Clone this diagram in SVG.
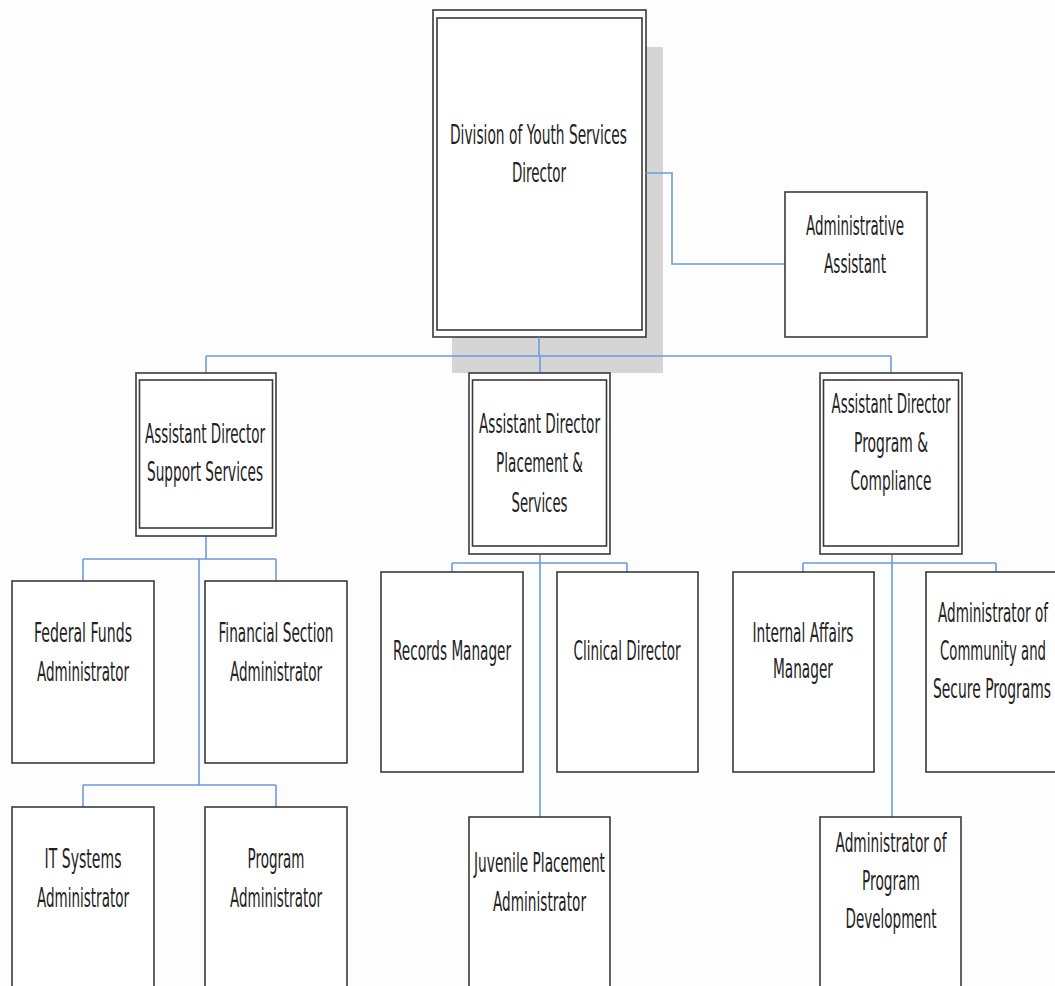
<svg xmlns="http://www.w3.org/2000/svg" width="1055" height="986" viewBox="0 0 1055 986">
<style>
.bg{fill:#fdfdfe}
.box{fill:#ffffff;stroke:#3a3a3a;stroke-width:1.6}
.inner{fill:none;stroke:#3a3a3a;stroke-width:1.6}
.shadow{fill:#d5d5d5}
.con{fill:none;stroke:#6b9be0;stroke-width:1.6}
text{font-family:"DejaVu Sans","Liberation Sans",sans-serif;font-size:27px;fill:#222;text-anchor:middle}
</style>
<rect class="bg" x="0" y="0" width="1055" height="986"/>
<rect class="shadow" x="452" y="47" width="211" height="326"/>
<g id="director">
<rect class="box" x="433" y="10" width="213" height="327"/>
<rect class="inner" x="437" y="18" width="205" height="312"/>
<text x="538.5" y="144" textLength="177" lengthAdjust="spacingAndGlyphs">Division of Youth Services</text>
<text x="539" y="182" textLength="54" lengthAdjust="spacingAndGlyphs">Director</text>
</g>
<g id="connectors">
<path class="con" d="M646,173 H672 V264 H785"/>
<path class="con" d="M539,337 V356"/>
<path class="con" d="M206,356 H891"/>
<path class="con" d="M206,356 V373 M540,356 V373 M891,356 V373"/>
<path class="con" d="M206,536 V559 M83,559 H276 M83,559 V581 M276,559 V581"/>
<path class="con" d="M199,559 V785 M83,785 H276 M83,785 V807 M276,785 V807"/>
<path class="con" d="M540,554 V817 M452,563 H627 M452,563 V572 M627,563 V572"/>
<path class="con" d="M892,554 V817 M803,563 H996 M803,563 V572 M996,563 V572"/>
</g>
<g id="admin-assistant">
<rect class="box" x="785" y="192" width="142" height="145"/>
<text x="855" y="235" textLength="98" lengthAdjust="spacingAndGlyphs">Administrative</text>
<text x="855" y="273" textLength="62" lengthAdjust="spacingAndGlyphs">Assistant</text>
</g>
<g id="ad-support">
<rect class="box" x="136" y="373" width="140" height="163"/>
<rect class="inner" x="139.5" y="380" width="133" height="148"/>
<text x="205" y="443" textLength="120" lengthAdjust="spacingAndGlyphs">Assistant Director</text>
<text x="205" y="481" textLength="116" lengthAdjust="spacingAndGlyphs">Support Services</text>
</g>
<g id="ad-placement">
<rect class="box" x="469" y="373" width="141" height="181"/>
<rect class="inner" x="472.5" y="380" width="134" height="166"/>
<text x="539.5" y="433" textLength="121" lengthAdjust="spacingAndGlyphs">Assistant Director</text>
<text x="539.5" y="472" textLength="87" lengthAdjust="spacingAndGlyphs">Placement &amp;</text>
<text x="539.5" y="512" textLength="56" lengthAdjust="spacingAndGlyphs">Services</text>
</g>
<g id="ad-compliance">
<rect class="box" x="820" y="373" width="142" height="181"/>
<rect class="inner" x="823.5" y="380" width="135" height="166"/>
<text x="891" y="413" textLength="119" lengthAdjust="spacingAndGlyphs">Assistant Director</text>
<text x="891" y="452" textLength="74" lengthAdjust="spacingAndGlyphs">Program &amp;</text>
<text x="891" y="490" textLength="81" lengthAdjust="spacingAndGlyphs">Compliance</text>
</g>
<g id="federal-funds">
<rect class="box" x="12" y="581" width="142" height="182"/>
<text x="83" y="642" textLength="98" lengthAdjust="spacingAndGlyphs">Federal Funds</text>
<text x="83" y="681" textLength="92" lengthAdjust="spacingAndGlyphs">Administrator</text>
</g>
<g id="financial-section">
<rect class="box" x="205" y="581" width="142" height="182"/>
<text x="276" y="642" textLength="115" lengthAdjust="spacingAndGlyphs">Financial Section</text>
<text x="276" y="681" textLength="92" lengthAdjust="spacingAndGlyphs">Administrator</text>
</g>
<g id="it-systems">
<rect class="box" x="12" y="807" width="142" height="200"/>
<text x="83" y="868" textLength="77" lengthAdjust="spacingAndGlyphs">IT Systems</text>
<text x="83" y="907" textLength="92" lengthAdjust="spacingAndGlyphs">Administrator</text>
</g>
<g id="program-admin">
<rect class="box" x="205" y="807" width="142" height="200"/>
<text x="276" y="868" textLength="57" lengthAdjust="spacingAndGlyphs">Program</text>
<text x="276" y="907" textLength="92" lengthAdjust="spacingAndGlyphs">Administrator</text>
</g>
<g id="records-manager">
<rect class="box" x="381" y="572" width="142" height="200"/>
<text x="452" y="660" textLength="118" lengthAdjust="spacingAndGlyphs">Records Manager</text>
</g>
<g id="clinical-director">
<rect class="box" x="557" y="572" width="141" height="200"/>
<text x="627" y="660" textLength="107" lengthAdjust="spacingAndGlyphs">Clinical Director</text>
</g>
<g id="juvenile-placement">
<rect class="box" x="469" y="817" width="141" height="200"/>
<text x="539.5" y="872" textLength="131" lengthAdjust="spacingAndGlyphs">Juvenile Placement</text>
<text x="539.5" y="911" textLength="93" lengthAdjust="spacingAndGlyphs">Administrator</text>
</g>
<g id="internal-affairs">
<rect class="box" x="733" y="572" width="141" height="200"/>
<text x="803" y="642" textLength="101" lengthAdjust="spacingAndGlyphs">Internal Affairs</text>
<text x="803" y="678" textLength="60" lengthAdjust="spacingAndGlyphs">Manager</text>
</g>
<g id="community-secure">
<rect class="box" x="926" y="572" width="141" height="200"/>
<text x="993" y="622" textLength="110" lengthAdjust="spacingAndGlyphs">Administrator of</text>
<text x="993" y="660" textLength="106" lengthAdjust="spacingAndGlyphs">Community and</text>
<text x="992" y="698" textLength="118" lengthAdjust="spacingAndGlyphs">Secure Programs</text>
</g>
<g id="program-development">
<rect class="box" x="820" y="817" width="141" height="200"/>
<text x="891" y="852" textLength="111" lengthAdjust="spacingAndGlyphs">Administrator of</text>
<text x="891" y="890" textLength="58" lengthAdjust="spacingAndGlyphs">Program</text>
<text x="891" y="928" textLength="91" lengthAdjust="spacingAndGlyphs">Development</text>
</g>
</svg>
